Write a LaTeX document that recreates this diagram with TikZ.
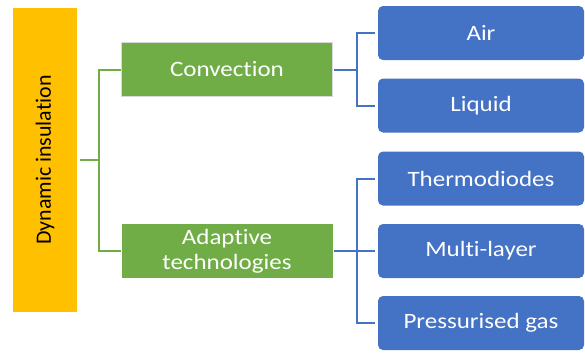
\documentclass[tikz,border=0pt]{standalone}
\usepackage{fontspec}
\setmainfont[Ligatures=NoCommon]{Carlito}
\newfontfamily\widefont[FakeStretch=1.14,Ligatures=NoCommon]{Carlito}
\definecolor{gold}{HTML}{FFC000}
\definecolor{leaf}{HTML}{70AD47}
\definecolor{sea}{HTML}{4472C4}
\tikzset{
  rootbox/.style={rectangle, fill=gold, minimum width=64bp, minimum height=304bp,
    inner sep=0pt, font=\fontsize{22}{26}\selectfont, text=black},
  midbox/.style={rectangle, fill=leaf, minimum width=211bp, minimum height=54bp,
    inner sep=0pt, align=center, text=white, font=\widefont\fontsize{22}{25}\selectfont},
  leafbox/.style={rectangle, rounded corners=5bp, fill=sea, minimum width=206bp,
    minimum height=54bp, inner sep=0pt, text=white,
    font=\widefont\fontsize{22}{25}\selectfont},
  gline/.style={draw=leaf, line width=2bp},
  bline/.style={draw=sea, line width=2bp}
}
\begin{document}
\begin{tikzpicture}[x=1bp,y=-1bp]
\useasboundingbox (0,0) rectangle (585,352);

% root
\node[rootbox] (dyn) at (45,160) {\rotatebox{90}{Dynamic insulation}};

% second level
\node[midbox, draw=black!15, line width=1.5bp] (conv) at (227,69.5) {Convection};
\node[midbox] (adapt) at (227,251) {Adaptive\\technologies};

% leaves
\node[leafbox] (air)    at (481,33)    {Air};
\node[leafbox] (liquid) at (481,105.5) {Liquid};
\node[leafbox] (thermo) at (481,178.5) {Thermodiodes};
\node[leafbox] (multi)  at (481,251)   {Multi-layer};
\node[leafbox] (press)  at (481,323)   {Pressurised gas};

% junctions
\coordinate (gj) at (99,160);
\coordinate (bj1) at (357,69.5);
\coordinate (bj2) at (357,251);

% green bracket
\draw[gline] ([xshift=3bp]dyn.east) -- (gj);
\draw[gline] (conv.west) -| (gj);
\draw[gline] (adapt.west) -| (gj);

% blue brackets
\draw[bline] ([xshift=1bp]conv.east) -- (bj1);
\draw[bline] ([xshift=-3bp]air.west) -| (bj1);
\draw[bline] ([xshift=-3bp]liquid.west) -| (bj1);

\draw[bline] ([xshift=1bp]adapt.east) -- (bj2);
\draw[bline] ([xshift=-3bp]thermo.west) -| (bj2);
\draw[bline] ([xshift=-3bp]multi.west) -| (bj2);
\draw[bline] ([xshift=-3bp]press.west) -| (bj2);
\end{tikzpicture}
\end{document}
